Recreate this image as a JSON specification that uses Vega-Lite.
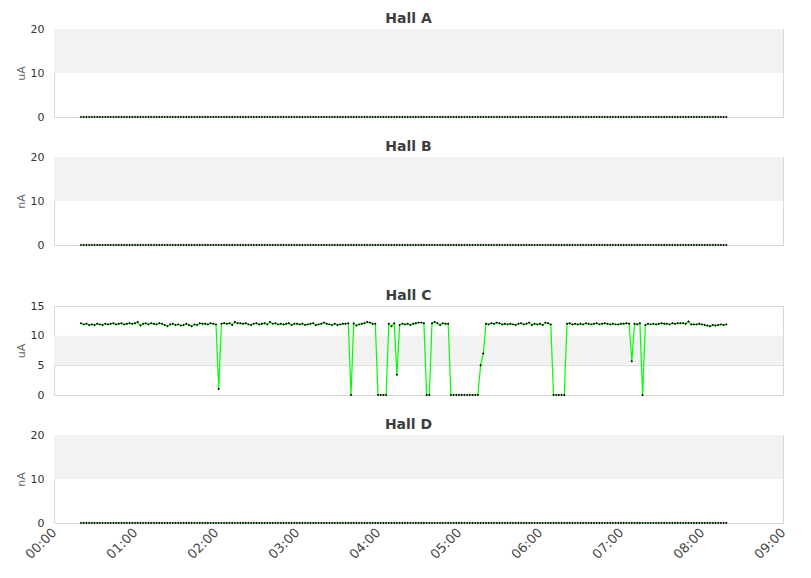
{
  "$schema": "https://vega.github.io/schema/vega-lite/v6.json",
  "description": "Beam current per hall, four stacked panels, x in minutes after midnight",
  "background": "white",
  "padding": {"left": 14, "top": 11, "right": 20, "bottom": 5},
  "data": {
    "values": [
      {"m":20,"a":0,"b":0,"c":12.1,"d":0},
      {"m":22,"a":0,"b":0,"c":11.9,"d":0},
      {"m":24,"a":0,"b":0,"c":12.0,"d":0},
      {"m":26,"a":0,"b":0,"c":11.8,"d":0},
      {"m":28,"a":0,"b":0,"c":11.9,"d":0},
      {"m":30,"a":0,"b":0,"c":11.8,"d":0},
      {"m":32,"a":0,"b":0,"c":12.0,"d":0},
      {"m":34,"a":0,"b":0,"c":11.9,"d":0},
      {"m":36,"a":0,"b":0,"c":11.8,"d":0},
      {"m":38,"a":0,"b":0,"c":12.0,"d":0},
      {"m":40,"a":0,"b":0,"c":11.9,"d":0},
      {"m":42,"a":0,"b":0,"c":12.0,"d":0},
      {"m":44,"a":0,"b":0,"c":12.1,"d":0},
      {"m":46,"a":0,"b":0,"c":11.9,"d":0},
      {"m":48,"a":0,"b":0,"c":12.0,"d":0},
      {"m":50,"a":0,"b":0,"c":12.1,"d":0},
      {"m":52,"a":0,"b":0,"c":11.9,"d":0},
      {"m":54,"a":0,"b":0,"c":12.0,"d":0},
      {"m":56,"a":0,"b":0,"c":12.1,"d":0},
      {"m":58,"a":0,"b":0,"c":12.0,"d":0},
      {"m":60,"a":0,"b":0,"c":12.1,"d":0},
      {"m":62,"a":0,"b":0,"c":12.3,"d":0},
      {"m":64,"a":0,"b":0,"c":11.7,"d":0},
      {"m":66,"a":0,"b":0,"c":12.0,"d":0},
      {"m":68,"a":0,"b":0,"c":12.1,"d":0},
      {"m":70,"a":0,"b":0,"c":11.9,"d":0},
      {"m":72,"a":0,"b":0,"c":12.1,"d":0},
      {"m":74,"a":0,"b":0,"c":12.0,"d":0},
      {"m":76,"a":0,"b":0,"c":11.9,"d":0},
      {"m":78,"a":0,"b":0,"c":12.1,"d":0},
      {"m":80,"a":0,"b":0,"c":12.0,"d":0},
      {"m":82,"a":0,"b":0,"c":11.8,"d":0},
      {"m":84,"a":0,"b":0,"c":11.6,"d":0},
      {"m":86,"a":0,"b":0,"c":11.9,"d":0},
      {"m":88,"a":0,"b":0,"c":12.0,"d":0},
      {"m":90,"a":0,"b":0,"c":11.8,"d":0},
      {"m":92,"a":0,"b":0,"c":11.9,"d":0},
      {"m":94,"a":0,"b":0,"c":11.7,"d":0},
      {"m":96,"a":0,"b":0,"c":11.8,"d":0},
      {"m":98,"a":0,"b":0,"c":12.0,"d":0},
      {"m":100,"a":0,"b":0,"c":11.8,"d":0},
      {"m":102,"a":0,"b":0,"c":11.6,"d":0},
      {"m":104,"a":0,"b":0,"c":11.9,"d":0},
      {"m":106,"a":0,"b":0,"c":11.8,"d":0},
      {"m":108,"a":0,"b":0,"c":12.1,"d":0},
      {"m":110,"a":0,"b":0,"c":12.0,"d":0},
      {"m":112,"a":0,"b":0,"c":12.0,"d":0},
      {"m":114,"a":0,"b":0,"c":11.9,"d":0},
      {"m":116,"a":0,"b":0,"c":12.1,"d":0},
      {"m":118,"a":0,"b":0,"c":12.0,"d":0},
      {"m":120,"a":0,"b":0,"c":11.9,"d":0},
      {"m":122,"a":0,"b":0,"c":1.0,"d":0},
      {"m":124,"a":0,"b":0,"c":12.0,"d":0},
      {"m":126,"a":0,"b":0,"c":12.1,"d":0},
      {"m":128,"a":0,"b":0,"c":12.0,"d":0},
      {"m":130,"a":0,"b":0,"c":12.1,"d":0},
      {"m":132,"a":0,"b":0,"c":11.8,"d":0},
      {"m":134,"a":0,"b":0,"c":12.3,"d":0},
      {"m":136,"a":0,"b":0,"c":12.1,"d":0},
      {"m":138,"a":0,"b":0,"c":12.1,"d":0},
      {"m":140,"a":0,"b":0,"c":12.0,"d":0},
      {"m":142,"a":0,"b":0,"c":12.1,"d":0},
      {"m":144,"a":0,"b":0,"c":11.9,"d":0},
      {"m":146,"a":0,"b":0,"c":11.8,"d":0},
      {"m":148,"a":0,"b":0,"c":12.0,"d":0},
      {"m":150,"a":0,"b":0,"c":12.1,"d":0},
      {"m":152,"a":0,"b":0,"c":11.9,"d":0},
      {"m":154,"a":0,"b":0,"c":12.0,"d":0},
      {"m":156,"a":0,"b":0,"c":12.1,"d":0},
      {"m":158,"a":0,"b":0,"c":11.9,"d":0},
      {"m":160,"a":0,"b":0,"c":12.3,"d":0},
      {"m":162,"a":0,"b":0,"c":12.0,"d":0},
      {"m":164,"a":0,"b":0,"c":12.1,"d":0},
      {"m":166,"a":0,"b":0,"c":11.9,"d":0},
      {"m":168,"a":0,"b":0,"c":12.0,"d":0},
      {"m":170,"a":0,"b":0,"c":11.9,"d":0},
      {"m":172,"a":0,"b":0,"c":12.0,"d":0},
      {"m":174,"a":0,"b":0,"c":12.1,"d":0},
      {"m":176,"a":0,"b":0,"c":11.8,"d":0},
      {"m":178,"a":0,"b":0,"c":12.0,"d":0},
      {"m":180,"a":0,"b":0,"c":12.0,"d":0},
      {"m":182,"a":0,"b":0,"c":11.9,"d":0},
      {"m":184,"a":0,"b":0,"c":12.0,"d":0},
      {"m":186,"a":0,"b":0,"c":11.8,"d":0},
      {"m":188,"a":0,"b":0,"c":11.9,"d":0},
      {"m":190,"a":0,"b":0,"c":12.0,"d":0},
      {"m":192,"a":0,"b":0,"c":12.1,"d":0},
      {"m":194,"a":0,"b":0,"c":11.8,"d":0},
      {"m":196,"a":0,"b":0,"c":11.9,"d":0},
      {"m":198,"a":0,"b":0,"c":12.0,"d":0},
      {"m":200,"a":0,"b":0,"c":12.2,"d":0},
      {"m":202,"a":0,"b":0,"c":12.0,"d":0},
      {"m":204,"a":0,"b":0,"c":11.9,"d":0},
      {"m":206,"a":0,"b":0,"c":11.8,"d":0},
      {"m":208,"a":0,"b":0,"c":12.0,"d":0},
      {"m":210,"a":0,"b":0,"c":11.8,"d":0},
      {"m":212,"a":0,"b":0,"c":11.9,"d":0},
      {"m":214,"a":0,"b":0,"c":12.0,"d":0},
      {"m":216,"a":0,"b":0,"c":12.0,"d":0},
      {"m":218,"a":0,"b":0,"c":12.1,"d":0},
      {"m":220,"a":0,"b":0,"c":0,"d":0},
      {"m":222,"a":0,"b":0,"c":12.1,"d":0},
      {"m":224,"a":0,"b":0,"c":11.7,"d":0},
      {"m":226,"a":0,"b":0,"c":11.9,"d":0},
      {"m":228,"a":0,"b":0,"c":12.0,"d":0},
      {"m":230,"a":0,"b":0,"c":12.1,"d":0},
      {"m":232,"a":0,"b":0,"c":12.3,"d":0},
      {"m":234,"a":0,"b":0,"c":12.2,"d":0},
      {"m":236,"a":0,"b":0,"c":12.0,"d":0},
      {"m":238,"a":0,"b":0,"c":12.0,"d":0},
      {"m":240,"a":0,"b":0,"c":0,"d":0},
      {"m":242,"a":0,"b":0,"c":0,"d":0},
      {"m":244,"a":0,"b":0,"c":0,"d":0},
      {"m":246,"a":0,"b":0,"c":0,"d":0},
      {"m":248,"a":0,"b":0,"c":12.0,"d":0},
      {"m":250,"a":0,"b":0,"c":11.6,"d":0},
      {"m":252,"a":0,"b":0,"c":12.1,"d":0},
      {"m":254,"a":0,"b":0,"c":3.4,"d":0},
      {"m":256,"a":0,"b":0,"c":11.8,"d":0},
      {"m":258,"a":0,"b":0,"c":12.0,"d":0},
      {"m":260,"a":0,"b":0,"c":11.9,"d":0},
      {"m":262,"a":0,"b":0,"c":12.0,"d":0},
      {"m":264,"a":0,"b":0,"c":11.8,"d":0},
      {"m":266,"a":0,"b":0,"c":12.0,"d":0},
      {"m":268,"a":0,"b":0,"c":12.1,"d":0},
      {"m":270,"a":0,"b":0,"c":12.2,"d":0},
      {"m":272,"a":0,"b":0,"c":12.2,"d":0},
      {"m":274,"a":0,"b":0,"c":12.1,"d":0},
      {"m":276,"a":0,"b":0,"c":0,"d":0},
      {"m":278,"a":0,"b":0,"c":0,"d":0},
      {"m":280,"a":0,"b":0,"c":12.1,"d":0},
      {"m":282,"a":0,"b":0,"c":12.3,"d":0},
      {"m":284,"a":0,"b":0,"c":12.1,"d":0},
      {"m":286,"a":0,"b":0,"c":11.8,"d":0},
      {"m":288,"a":0,"b":0,"c":12.1,"d":0},
      {"m":290,"a":0,"b":0,"c":12.0,"d":0},
      {"m":292,"a":0,"b":0,"c":12.0,"d":0},
      {"m":294,"a":0,"b":0,"c":0,"d":0},
      {"m":296,"a":0,"b":0,"c":0,"d":0},
      {"m":298,"a":0,"b":0,"c":0,"d":0},
      {"m":300,"a":0,"b":0,"c":0,"d":0},
      {"m":302,"a":0,"b":0,"c":0,"d":0},
      {"m":304,"a":0,"b":0,"c":0,"d":0},
      {"m":306,"a":0,"b":0,"c":0,"d":0},
      {"m":308,"a":0,"b":0,"c":0,"d":0},
      {"m":310,"a":0,"b":0,"c":0,"d":0},
      {"m":312,"a":0,"b":0,"c":0,"d":0},
      {"m":314,"a":0,"b":0,"c":0,"d":0},
      {"m":316,"a":0,"b":0,"c":5.0,"d":0},
      {"m":318,"a":0,"b":0,"c":7.0,"d":0},
      {"m":320,"a":0,"b":0,"c":12.0,"d":0},
      {"m":322,"a":0,"b":0,"c":11.9,"d":0},
      {"m":324,"a":0,"b":0,"c":12.1,"d":0},
      {"m":326,"a":0,"b":0,"c":12.0,"d":0},
      {"m":328,"a":0,"b":0,"c":12.2,"d":0},
      {"m":330,"a":0,"b":0,"c":12.1,"d":0},
      {"m":332,"a":0,"b":0,"c":11.9,"d":0},
      {"m":334,"a":0,"b":0,"c":12.0,"d":0},
      {"m":336,"a":0,"b":0,"c":11.9,"d":0},
      {"m":338,"a":0,"b":0,"c":12.0,"d":0},
      {"m":340,"a":0,"b":0,"c":11.9,"d":0},
      {"m":342,"a":0,"b":0,"c":11.8,"d":0},
      {"m":344,"a":0,"b":0,"c":12.0,"d":0},
      {"m":346,"a":0,"b":0,"c":12.1,"d":0},
      {"m":348,"a":0,"b":0,"c":11.9,"d":0},
      {"m":350,"a":0,"b":0,"c":12.0,"d":0},
      {"m":352,"a":0,"b":0,"c":12.2,"d":0},
      {"m":354,"a":0,"b":0,"c":11.8,"d":0},
      {"m":356,"a":0,"b":0,"c":12.0,"d":0},
      {"m":358,"a":0,"b":0,"c":11.9,"d":0},
      {"m":360,"a":0,"b":0,"c":12.0,"d":0},
      {"m":362,"a":0,"b":0,"c":11.8,"d":0},
      {"m":364,"a":0,"b":0,"c":12.2,"d":0},
      {"m":366,"a":0,"b":0,"c":12.1,"d":0},
      {"m":368,"a":0,"b":0,"c":11.9,"d":0},
      {"m":370,"a":0,"b":0,"c":0,"d":0},
      {"m":372,"a":0,"b":0,"c":0,"d":0},
      {"m":374,"a":0,"b":0,"c":0,"d":0},
      {"m":376,"a":0,"b":0,"c":0,"d":0},
      {"m":378,"a":0,"b":0,"c":0,"d":0},
      {"m":380,"a":0,"b":0,"c":12.0,"d":0},
      {"m":382,"a":0,"b":0,"c":12.1,"d":0},
      {"m":384,"a":0,"b":0,"c":11.9,"d":0},
      {"m":386,"a":0,"b":0,"c":12.0,"d":0},
      {"m":388,"a":0,"b":0,"c":11.9,"d":0},
      {"m":390,"a":0,"b":0,"c":12.0,"d":0},
      {"m":392,"a":0,"b":0,"c":11.9,"d":0},
      {"m":394,"a":0,"b":0,"c":12.1,"d":0},
      {"m":396,"a":0,"b":0,"c":12.0,"d":0},
      {"m":398,"a":0,"b":0,"c":11.9,"d":0},
      {"m":400,"a":0,"b":0,"c":12.0,"d":0},
      {"m":402,"a":0,"b":0,"c":12.1,"d":0},
      {"m":404,"a":0,"b":0,"c":11.9,"d":0},
      {"m":406,"a":0,"b":0,"c":12.0,"d":0},
      {"m":408,"a":0,"b":0,"c":12.1,"d":0},
      {"m":410,"a":0,"b":0,"c":12.0,"d":0},
      {"m":412,"a":0,"b":0,"c":11.9,"d":0},
      {"m":414,"a":0,"b":0,"c":12.0,"d":0},
      {"m":416,"a":0,"b":0,"c":11.9,"d":0},
      {"m":418,"a":0,"b":0,"c":11.9,"d":0},
      {"m":420,"a":0,"b":0,"c":12.0,"d":0},
      {"m":422,"a":0,"b":0,"c":12.0,"d":0},
      {"m":424,"a":0,"b":0,"c":12.1,"d":0},
      {"m":426,"a":0,"b":0,"c":12.0,"d":0},
      {"m":428,"a":0,"b":0,"c":5.7,"d":0},
      {"m":430,"a":0,"b":0,"c":12.0,"d":0},
      {"m":432,"a":0,"b":0,"c":11.9,"d":0},
      {"m":434,"a":0,"b":0,"c":12.1,"d":0},
      {"m":436,"a":0,"b":0,"c":0,"d":0},
      {"m":438,"a":0,"b":0,"c":11.8,"d":0},
      {"m":440,"a":0,"b":0,"c":12.0,"d":0},
      {"m":442,"a":0,"b":0,"c":11.9,"d":0},
      {"m":444,"a":0,"b":0,"c":12.0,"d":0},
      {"m":446,"a":0,"b":0,"c":11.9,"d":0},
      {"m":448,"a":0,"b":0,"c":12.0,"d":0},
      {"m":450,"a":0,"b":0,"c":12.1,"d":0},
      {"m":452,"a":0,"b":0,"c":12.0,"d":0},
      {"m":454,"a":0,"b":0,"c":12.0,"d":0},
      {"m":456,"a":0,"b":0,"c":11.9,"d":0},
      {"m":458,"a":0,"b":0,"c":12.1,"d":0},
      {"m":460,"a":0,"b":0,"c":12.0,"d":0},
      {"m":462,"a":0,"b":0,"c":12.1,"d":0},
      {"m":464,"a":0,"b":0,"c":12.1,"d":0},
      {"m":466,"a":0,"b":0,"c":12.1,"d":0},
      {"m":468,"a":0,"b":0,"c":12.0,"d":0},
      {"m":470,"a":0,"b":0,"c":12.4,"d":0},
      {"m":472,"a":0,"b":0,"c":11.9,"d":0},
      {"m":474,"a":0,"b":0,"c":11.9,"d":0},
      {"m":476,"a":0,"b":0,"c":11.9,"d":0},
      {"m":478,"a":0,"b":0,"c":12.0,"d":0},
      {"m":480,"a":0,"b":0,"c":11.9,"d":0},
      {"m":482,"a":0,"b":0,"c":11.8,"d":0},
      {"m":484,"a":0,"b":0,"c":11.7,"d":0},
      {"m":486,"a":0,"b":0,"c":11.6,"d":0},
      {"m":488,"a":0,"b":0,"c":11.8,"d":0},
      {"m":490,"a":0,"b":0,"c":11.7,"d":0},
      {"m":492,"a":0,"b":0,"c":11.8,"d":0},
      {"m":494,"a":0,"b":0,"c":11.9,"d":0},
      {"m":496,"a":0,"b":0,"c":11.8,"d":0},
      {"m":498,"a":0,"b":0,"c":11.9,"d":0}
    ]
  },
  "spacing": 16,
  "vconcat": [
    {
      "title": "Hall A",
      "width": 729,
      "height": 88,
      "layer": [
        {
          "data": {"values": [{"band": "upper"}]},
          "mark": {"type": "rect", "color": "#f2f2f2"},
          "encoding": {
            "x": {"datum": 0, "type": "quantitative", "scale": {"domain": [0, 540], "nice": false, "zero": false}, "axis": null},
            "x2": {"datum": 540},
            "y": {"datum": 10, "type": "quantitative", "title": "uA", "scale": {"domain": [0, 20], "nice": false}, "axis": {"values": [0, 10, 20]}},
            "y2": {"datum": 20}
          }
        },
        {
          "mark": {"type": "line", "color": "#00ff00", "strokeWidth": 1.2, "clip": true},
          "encoding": {
            "x": {"field": "m", "type": "quantitative"},
            "y": {"field": "a", "type": "quantitative", "title": "uA"}
          }
        },
        {
          "mark": {"type": "point", "shape": "diamond", "filled": true, "color": "black", "size": 6, "opacity": 1},
          "encoding": {
            "x": {"field": "m", "type": "quantitative"},
            "y": {"field": "a", "type": "quantitative", "title": "uA"}
          }
        }
      ]
    },
    {
      "title": "Hall B",
      "width": 729,
      "height": 88,
      "layer": [
        {
          "data": {"values": [{"band": "upper"}]},
          "mark": {"type": "rect", "color": "#f2f2f2"},
          "encoding": {
            "x": {"datum": 0, "type": "quantitative", "title": null, "scale": {"domain": [0, 540], "nice": false, "zero": false}, "axis": {"labels": false, "ticks": false, "domain": false, "grid": false, "minExtent": 26, "maxExtent": 26}},
            "x2": {"datum": 540},
            "y": {"datum": 10, "type": "quantitative", "title": "nA", "scale": {"domain": [0, 20], "nice": false}, "axis": {"values": [0, 10, 20]}},
            "y2": {"datum": 20}
          }
        },
        {
          "mark": {"type": "line", "color": "#00ff00", "strokeWidth": 1.2, "clip": true},
          "encoding": {
            "x": {"field": "m", "type": "quantitative", "title": null},
            "y": {"field": "b", "type": "quantitative", "title": "nA"}
          }
        },
        {
          "mark": {"type": "point", "shape": "diamond", "filled": true, "color": "black", "size": 6, "opacity": 1},
          "encoding": {
            "x": {"field": "m", "type": "quantitative", "title": null},
            "y": {"field": "b", "type": "quantitative", "title": "nA"}
          }
        }
      ]
    },
    {
      "title": "Hall C",
      "width": 729,
      "height": 89,
      "layer": [
        {
          "data": {"values": [{"band": "middle"}]},
          "mark": {"type": "rect", "color": "#f2f2f2"},
          "encoding": {
            "x": {"datum": 0, "type": "quantitative", "scale": {"domain": [0, 540], "nice": false, "zero": false}, "axis": null},
            "x2": {"datum": 540},
            "y": {"datum": 5, "type": "quantitative", "title": "uA", "scale": {"domain": [0, 15], "nice": false}, "axis": {"values": [0, 5, 10, 15], "tickCount": 4, "labelOverlap": false, "grid": true}},
            "y2": {"datum": 10}
          }
        },
        {
          "mark": {"type": "line", "color": "#00ff00", "strokeWidth": 1.2, "clip": true},
          "encoding": {
            "x": {"field": "m", "type": "quantitative"},
            "y": {"field": "c", "type": "quantitative", "title": "uA", "axis": {"values": [0, 5, 10, 15], "tickCount": 4, "labelOverlap": false, "grid": true}}
          }
        },
        {
          "mark": {"type": "point", "shape": "diamond", "filled": true, "color": "black", "size": 6, "opacity": 1},
          "encoding": {
            "x": {"field": "m", "type": "quantitative"},
            "y": {"field": "c", "type": "quantitative", "title": "uA", "axis": {"values": [0, 5, 10, 15], "tickCount": 4, "labelOverlap": false, "grid": true}}
          }
        }
      ]
    },
    {
      "title": "Hall D",
      "width": 729,
      "height": 88,
      "layer": [
        {
          "data": {"values": [{"band": "upper"}]},
          "mark": {"type": "rect", "color": "#f2f2f2"},
          "encoding": {
            "x": {
              "datum": 0,
              "type": "quantitative",
              "title": null,
              "scale": {"domain": [0, 540], "nice": false, "zero": false},
              "axis": {"values": [0, 60, 120, 180, 240, 300, 360, 420, 480, 540], "labelExpr": "'0' + (datum.value / 60) + ':00'", "labelAngle": -45, "labelAlign": "right", "labelBaseline": "middle", "labelPadding": 7, "labelFontSize": 13, "labelColor": "#444444", "grid": false, "labelFlush": false, "labelOverlap": false}
            },
            "x2": {"datum": 540},
            "y": {"datum": 10, "type": "quantitative", "title": "nA", "scale": {"domain": [0, 20], "nice": false}, "axis": {"values": [0, 10, 20]}},
            "y2": {"datum": 20}
          }
        },
        {
          "mark": {"type": "line", "color": "#00ff00", "strokeWidth": 1.2, "clip": true},
          "encoding": {
            "x": {"field": "m", "type": "quantitative", "title": null},
            "y": {"field": "d", "type": "quantitative", "title": "nA"}
          }
        },
        {
          "mark": {"type": "point", "shape": "diamond", "filled": true, "color": "black", "size": 6, "opacity": 1},
          "encoding": {
            "x": {"field": "m", "type": "quantitative", "title": null},
            "y": {"field": "d", "type": "quantitative", "title": "nA"}
          }
        }
      ]
    }
  ],
  "config": {
    "font": "DejaVu Sans",
    "view": {"stroke": "#d8d8d8"},
    "title": {"fontSize": 14, "fontWeight": "bold", "color": "#3e3e3e", "font": "DejaVu Sans", "offset": -3, "dx": -10},
    "axis": {
      "labelFont": "DejaVu Sans",
      "titleFont": "DejaVu Sans",
      "labelFontSize": 11,
      "labelColor": "#333333",
      "titleFontSize": 11,
      "titleFontWeight": "normal",
      "titleColor": "#666666",
      "gridColor": "#d8d8d8",
      "domain": false,
      "ticks": false
    },
    "axisY": {"labelPadding": 10, "titlePadding": 4, "zindex": 1, "labelOverlap": false, "labelFlush": false}
  }
}
